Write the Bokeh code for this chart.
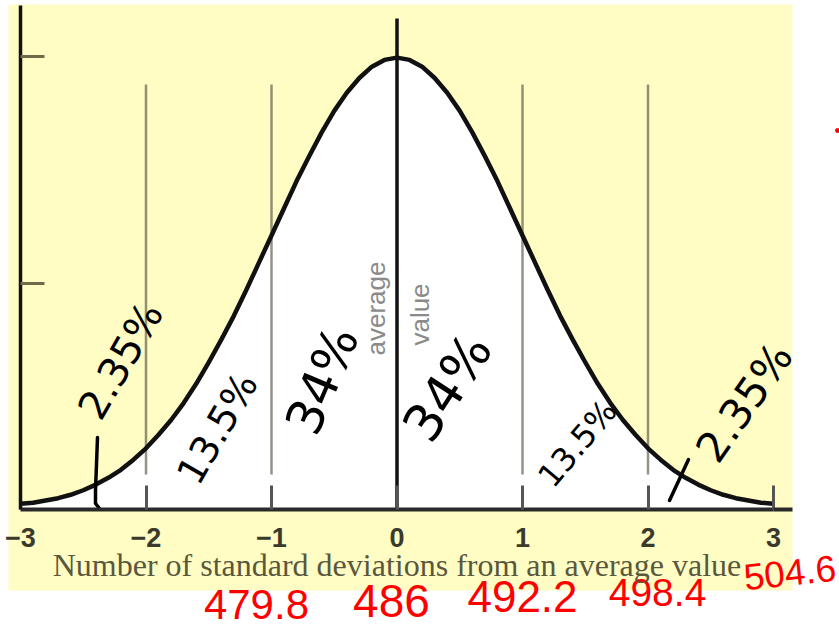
import math

from bokeh.core.properties import value
from bokeh.embed import file_html
from bokeh.models import ColumnDataSource, FixedTicker, LinearAxis
from bokeh.plotting import figure
from bokeh.resources import INLINE

# Bell curve: height of the normal curve at every 0.1 standard deviation
sd_x = [-3.0, -2.9, -2.8, -2.7, -2.6, -2.5, -2.4, -2.3, -2.2, -2.1,
        -2.0, -1.9, -1.8, -1.7, -1.6, -1.5, -1.4, -1.3, -1.2, -1.1,
        -1.0, -0.9, -0.8, -0.7, -0.6, -0.5, -0.4, -0.3, -0.2, -0.1,
        0.0, 0.1, 0.2, 0.3, 0.4, 0.5, 0.6, 0.7, 0.8, 0.9,
        1.0, 1.1, 1.2, 1.3, 1.4, 1.5, 1.6, 1.7, 1.8, 1.9,
        2.0, 2.1, 2.2, 2.3, 2.4, 2.5, 2.6, 2.7, 2.8, 2.9, 3.0]
density = [0.005, 0.006, 0.008, 0.010, 0.013, 0.017, 0.022, 0.028, 0.035, 0.044,
           0.054, 0.066, 0.079, 0.094, 0.111, 0.130, 0.150, 0.171, 0.194, 0.218,
           0.242, 0.266, 0.290, 0.312, 0.333, 0.352, 0.368, 0.381, 0.391, 0.397,
           0.399, 0.397, 0.391, 0.381, 0.368, 0.352, 0.333, 0.312, 0.290, 0.266,
           0.242, 0.218, 0.194, 0.171, 0.150, 0.130, 0.111, 0.094, 0.079, 0.066,
           0.054, 0.044, 0.035, 0.028, 0.022, 0.017, 0.013, 0.010, 0.008, 0.006, 0.005]

# Axis ticks
x_ticks = [-3, -2, -1, 0, 1, 2, 3]
x_tick_labels = ["\u22123", "\u22122", "\u22121", "0", "1", "2", "3"]
y_ticks = [0.2, 0.4]
x_title = "Number of standard deviations from an average value"

# Dividers at each standard deviation
divider_sd = [-2, -1, 1, 2]
mean_sd = 0

# Share of values in each band (handwritten notes)
band_pct = ["2.35%", "13.5%", "34%", "34%", "13.5%", "2.35%"]
# Raw scores at -1 .. +3 standard deviations (mean 486, sd 6.2)
score_sd = [-1, 0, 1, 2, 3]
score_values = ["479.8", "486", "492.2", "498.4", "504.6"]

# ---- layout (pixel geometry of the drawing) ----
W, H = 839, 630
ORIGIN_PX = (20, 509)          # where (-3, 0) sits on the page
PX_PER_SD = 125.5
PX_PER_Y = 1132.5


def dx(px):
    return -3 + (px - ORIGIN_PX[0]) / PX_PER_SD


def dy(py):
    return (ORIGIN_PX[1] - py) / PX_PER_Y


p = figure(width=W, height=H, x_range=(dx(0), dx(W)), y_range=(dy(H), dy(0)),
           x_axis_type=None, y_axis_type=None, toolbar_location=None,
           output_backend="svg", min_border=0, outline_line_color=None,
           background_fill_color="white", border_fill_color="white")

# pale yellow panel behind the chart
p.quad(left=dx(8), right=dx(792), bottom=dy(590), top=dy(4),
       fill_color="#fffcc4", line_color=None)

# white area under the curve
p.varea(x=sd_x, y1=[0] * len(sd_x), y2=density, fill_color="white")

# gray dividers and the black mean line
p.segment(x0=divider_sd, x1=divider_sd, y0=[dy(474)] * 4, y1=[dy(84)] * 4,
          line_color="#4a4a3a", line_alpha=0.6, line_width=2.5)
p.segment(x0=[mean_sd], x1=[mean_sd], y0=[0], y1=[dy(18)],
          line_color="#111111", line_width=3.5)

# the bell curve
p.line(sd_x, density, line_color="#111111", line_width=4.5, line_join="round")

# "average value" written along the mean line
p.text(x=[dx(375), dx(419)], y=[dy(308), dy(314)], text=["average", "value"],
       angle=math.pi / 2, text_align="center", text_baseline="middle",
       text_font=value("Liberation Sans"), text_font_size="26px",
       text_color="#8a8a8a")

# x axis with its title
xa = LinearAxis(fixed_location=0, bounds=(-3, 3),
                ticker=FixedTicker(ticks=x_ticks),
                axis_label=x_title)
xa.major_label_overrides = {t: s for t, s in zip(x_ticks, x_tick_labels)}
xa.axis_line_color = "#2a2a2a"
xa.axis_line_width = 4
xa.major_tick_in = 24
xa.major_tick_out = 0
xa.major_tick_line_color = "#555555"
xa.major_tick_line_width = 3
xa.minor_tick_line_color = None
xa.major_label_standoff = 18
xa.major_label_text_font = "Liberation Sans"
xa.major_label_text_font_style = "bold"
xa.major_label_text_font_size = "27px"
xa.major_label_text_color = "#3a3a2c"
xa.axis_label_standoff = -3
xa.axis_label_text_font = "Liberation Serif"
xa.axis_label_text_font_style = "normal"
xa.axis_label_text_font_size = "32px"
xa.axis_label_text_color = "#5a583c"
p.add_layout(xa, "below")

# baseline runs on to the panel edge
xa_tail = LinearAxis(fixed_location=0, bounds=(3, dx(792)),
                     ticker=FixedTicker(ticks=[]))
xa_tail.axis_line_color = "#2a2a2a"
xa_tail.axis_line_width = 4
xa_tail.minor_tick_line_color = None
xa_tail.major_label_text_color = None
xa_tail.axis_label_text_color = None
p.add_layout(xa_tail, "below")

# y axis: ticks only, no labels
ya = LinearAxis(fixed_location=-3, bounds=(0, dy(5)),
                ticker=FixedTicker(ticks=y_ticks))
ya.axis_line_color = "#111111"
ya.axis_line_width = 3.5
ya.major_tick_in = 24
ya.major_tick_out = 0
ya.major_tick_line_color = "#6e6c48"
ya.major_tick_line_width = 3
ya.minor_tick_line_color = None
ya.major_label_text_color = None
ya.axis_label_text_color = None
p.add_layout(ya, "left")

# handwritten band percentages
pct_src = ColumnDataSource(dict(
    x=[dx(120), dx(217), dx(322), dx(447), dx(577), dx(744)],
    y=[dy(360), dy(428), dy(380), dy(387), dy(443), dy(402)],
    text=band_pct,
    angle=[math.radians(a) for a in (60, 60, 67, 57, 50, 55)],
    size=["40px", "38px", "50px", "52px", "32px", "42px"],
))
p.text(x="x", y="y", text="text", angle="angle", text_font_size="size",
       source=pct_src, text_align="center", text_baseline="middle",
       text_font=value("DejaVu Sans"), text_color="black")

# pointer strokes to the tail bands
p.line(x=[dx(97), dx(95), dx(95), dx(99)], y=[dy(437), dy(490), dy(503), dy(508)],
       line_color="black", line_width=3.5, line_cap="round", line_join="round")
p.line(x=[dx(669), dx(688)], y=[dy(500), dy(459)],
       line_color="black", line_width=3.5, line_cap="round")

# raw scores in red under the axis
score_src = ColumnDataSource(dict(
    x=[s + o for s, o in zip(score_sd, [-0.12, -0.044, 0.0, 0.076, 0.13])],
    y=[dy(604), dy(600), dy(596), dy(592), dy(572)],
    text=score_values,
    angle=[0, 0, 0, 0, math.radians(6)],
    size=["42px", "46px", "44px", "39px", "37px"],
))
p.text(x="x", y="y", text="text", angle="angle", text_font_size="size",
       source=score_src, text_align="center", text_baseline="middle",
       text_font=value("Liberation Sans"), text_color="#ff0000")
p.scatter(x=[dx(837)], y=[dy(130)], size=4, color="#ff0000")

open("out.html", "w").write(file_html(p, INLINE))
